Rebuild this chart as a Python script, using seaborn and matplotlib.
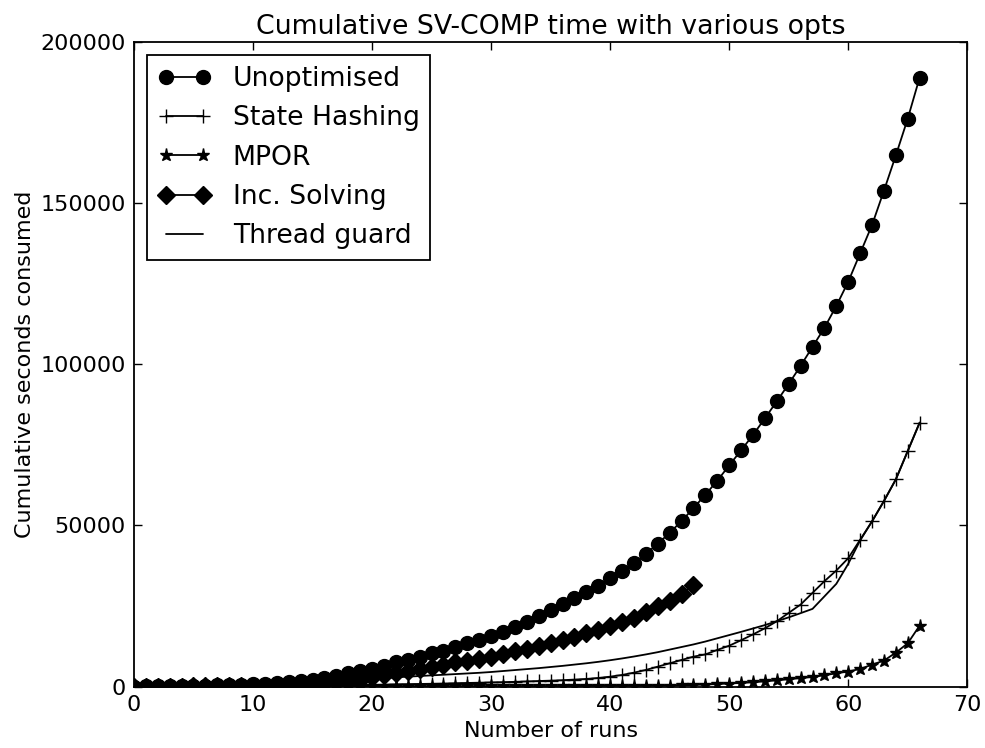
import matplotlib
matplotlib.use("Agg")
import matplotlib.pyplot as plt
import seaborn as sns
import pandas as pd

# cumulative seconds, one value per run
unoptimised = [30, 60, 100, 150, 210, 280, 360, 450, 550, 660,
               790, 940, 1120, 1400, 1860, 2170, 2700, 3420, 4140, 4900,
               5600, 6450, 7550, 8290, 9320, 10350, 11180, 12210, 13450, 14500,
               15620, 16990, 18420, 20090, 21840, 23820, 25680, 27430, 29300, 31270,
               33600, 35800, 38300, 41210, 44310, 47730, 51350, 55380, 59540, 63880,
               68640, 73300, 78060, 83240, 88500, 93900, 99500, 105400, 111300, 118100,
               125600, 134400, 143200, 153840, 164800, 176200, 188950]

state_hashing = [0, 10, 20, 30, 45, 60, 80, 100, 120, 140,
                 170, 200, 230, 260, 290, 320, 350, 390, 430, 470,
                 500, 600, 700, 770, 840, 900, 980, 1060, 1150, 1230,
                 1320, 1400, 1500, 1620, 1750, 1870, 2000, 2200, 2400, 2700,
                 3100, 3630, 4350, 5180, 6210, 7250, 8280, 9310, 10000, 11400,
                 12700, 14400, 16200, 18110, 20280, 22890, 25470, 29100, 32710, 36030,
                 39850, 45560, 51250, 57560, 64290, 73090, 81900]

mpor = [0, 0, 0, 0, 0, 0, 5, 5, 10, 10,
        15, 15, 20, 20, 25, 30, 35, 40, 45, 50,
        55, 60, 70, 80, 90, 100, 110, 120, 130, 140,
        150, 160, 170, 180, 190, 200, 210, 220, 230, 240,
        250, 260, 270, 280, 300, 350, 420, 520, 650, 800,
        980, 1150, 1350, 1650, 1950, 2300, 2650, 3000, 3550, 4140,
        4700, 5490, 6830, 8080, 10560, 13450, 18950]

inc_solving = [0, 10, 20, 30, 45, 60, 80, 100, 130, 160,
               200, 250, 320, 420, 560, 760, 1000, 1300, 1700, 2200,
               2900, 3630, 4140, 4760, 5490, 6000, 6730, 7550, 8080, 8700,
               9320, 10160, 10960, 11710, 12640, 13570, 14500, 15530, 16560, 17610,
               18950, 19970, 21330, 23080, 24940, 26710, 28790, 31680]

thread_guard = [0, 20, 50, 90, 140, 200, 270, 350, 440, 540,
                650, 780, 920, 1080, 1250, 1430, 1620, 1820, 2000, 2200,
                2400, 2650, 2900, 3100, 3300, 3500, 3700, 3900, 4100, 4300,
                4550, 4850, 5150, 5450, 5750, 6100, 6450, 6850, 7250, 7700,
                8200, 8750, 9350, 10000, 10700, 11500, 12300, 13100, 14000, 15000,
                16000, 17000, 18050, 19100, 20300, 21500, 22800, 24130, 28000, 31900,
                38100, 45350, 51300, 57600, 64300, 73100, 81900]

series = [
    ("Unoptimised", unoptimised, "o", 10),
    ("State Hashing", state_hashing, "+", 10),
    ("MPOR", mpor, "*", 9.5),
    ("Inc. Solving", inc_solving, "D", 9),
    ("Thread guard", thread_guard, None, 0),
]

sns.set_style("ticks", {
    "xtick.direction": "in",
    "ytick.direction": "in",
    "axes.edgecolor": "black",
    "text.color": "black",
    "axes.labelcolor": "black",
    "xtick.color": "black",
    "ytick.color": "black",
})
plt.rcParams["font.family"] = ["DejaVu Sans"]

fig = plt.figure(figsize=(9.85, 7.48), dpi=100)
ax = fig.add_axes([0.136, 0.082, 0.846, 0.862])

for name, vals, mk, ms in series:
    df = pd.DataFrame({"run": range(len(vals)), "secs": vals})
    kw = dict(color="black", linewidth=1.3, label=name, ax=ax, clip_on=True)
    if mk is not None:
        kw.update(marker=mk, markersize=ms, markeredgecolor="black",
                  markerfacecolor="black", markeredgewidth=1.0)
    sns.lineplot(data=df, x="run", y="secs", **kw)

ax.set_xlim(0, 70)
ax.set_ylim(0, 200000)
ax.set_xticks(range(0, 71, 10))
ax.set_yticks(range(0, 200001, 50000))
ax.tick_params(which="both", direction="in", top=True, right=True,
               length=5.5, width=1.0, labelsize=16, pad=6, colors="black")
for sp in ax.spines.values():
    sp.set_linewidth(1.3)
    sp.set_visible(True)

ax.set_title("Cumulative SV-COMP time with various opts", fontsize=19.3, color="black")
ax.set_xlabel("Number of runs", fontsize=16, color="black")
ax.set_ylabel("Cumulative seconds consumed", fontsize=16, color="black")

leg = ax.legend(loc="upper left", numpoints=2, fontsize=19.2, fancybox=False,
                frameon=True, edgecolor="black", framealpha=1,
                borderpad=0.4, labelspacing=0.5, handletextpad=0.8,
                handlelength=2.0)
leg.get_frame().set_linewidth(1.3)
for t in leg.get_texts():
    t.set_color("black")

fig.savefig("out.png", dpi=100)
